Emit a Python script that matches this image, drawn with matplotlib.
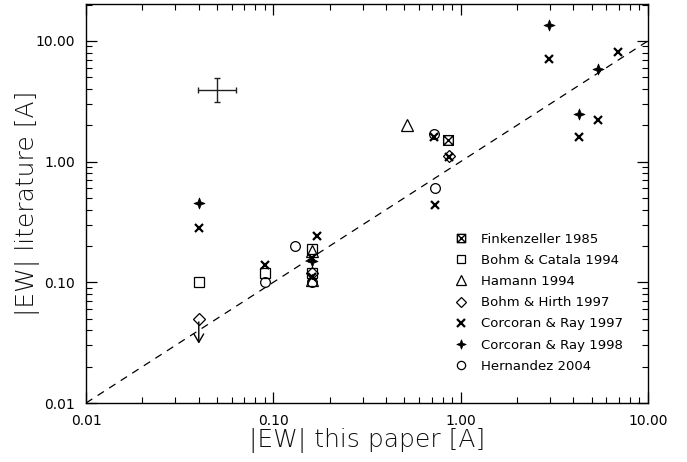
import matplotlib
matplotlib.use("Agg")
import matplotlib.pyplot as plt
import numpy as np
from matplotlib.path import Path
from matplotlib.ticker import LogLocator, FuncFormatter, NullFormatter

plt.rcParams['font.family'] = ['DejaVu Sans']

# Equivalent widths: this paper (x) vs. literature (y), per reference
fink_x = [0.86]
fink_y = [1.50]

bc_x = [0.04, 0.09, 0.16, 0.16]
bc_y = [0.10, 0.12, 0.19, 0.12]

ham_x = [0.52, 0.16, 0.16]
ham_y = [2.00, 0.18, 0.105]

bh_x = [0.04, 0.16, 0.87]
bh_y = [0.05, 0.12, 1.12]

cr97_x = [0.04, 0.09, 0.17, 0.16, 0.16, 0.72, 0.87, 0.73, 2.95, 4.3, 5.4, 6.9]
cr97_y = [0.28, 0.14, 0.24, 0.16, 0.11, 1.60, 1.10, 0.44, 7.1, 1.6, 2.2, 8.1]

cr98_x = [0.04, 0.16, 2.95, 4.3, 5.4]
cr98_y = [0.45, 0.15, 13.5, 2.5, 5.9]

her_x = [0.09, 0.13, 0.16, 0.72, 0.73]
her_y = [0.10, 0.20, 0.10, 1.70, 0.60]

# upper limit from Bohm & Hirth
ul_x = 0.04
ul_from, ul_to = 0.047, 0.031

# typical error (cross), +/- 0.1 dex
err_x, err_y = 0.05, 3.95
err_dex = 0.1

tick_vals = [0.01, 0.1, 1.0, 10.0]

# custom marker shapes
sqx = Path([(-1, -1), (1, -1), (1, 1), (-1, 1), (-1, -1),
            (-1, -1), (1, 1), (-1, 1), (1, -1)],
           [Path.MOVETO, Path.LINETO, Path.LINETO, Path.LINETO, Path.CLOSEPOLY,
            Path.MOVETO, Path.LINETO, Path.MOVETO, Path.LINETO])
a = 0.28
star4 = Path([(0, 1), (a, a), (1, 0), (a, -a), (0, -1), (-a, -a), (-1, 0), (-a, a), (0, 1)],
             [Path.MOVETO] + [Path.LINETO] * 7 + [Path.CLOSEPOLY])

fig = plt.figure(figsize=(6.87, 4.62), dpi=100)
ax = fig.add_axes([0.1252, 0.1277, 0.818, 0.8636])
ax.set_xscale('log')
ax.set_yscale('log')
ax.set_xlim(0.01, 10.0)
ax.set_ylim(0.01, 20.2)

# one-to-one line
lx = np.array([0.01, 10.0])
ax.plot(lx, lx, color='black', lw=0.9, ls=(0, (6, 5)), zorder=1)

kw = dict(ls='none', color='black', mec='black')
ax.plot(fink_x, fink_y, marker=sqx, ms=7, mfc='none', mew=1.0, label='Finkenzeller 1985', **kw)
ax.plot(bc_x, bc_y, marker='s', ms=7, mfc='none', mew=0.9, label='Bohm & Catala 1994', **kw)
ax.plot(ham_x, ham_y, marker='^', ms=9, mfc='none', mew=0.9, label='Hamann 1994', **kw)
ax.plot(bh_x, bh_y, marker='D', ms=6, mfc='none', mew=0.9, label='Bohm & Hirth 1997', **kw)
ax.plot(cr97_x, cr97_y, marker='x', ms=6, mew=1.6, label='Corcoran & Ray 1997', **kw)
ax.plot(cr98_x, cr98_y, marker=star4, ms=8, mfc='black', mew=0.5, label='Corcoran & Ray 1998', **kw)
ax.plot(her_x, her_y, marker='o', ms=7, mfc='none', mew=0.9, label='Hernandez 2004', **kw)

ax.annotate('', xy=(ul_x, ul_to), xytext=(ul_x, ul_from),
            arrowprops=dict(arrowstyle='->,head_length=0.6,head_width=0.35', color='black', lw=1.0,
                            shrinkA=0, shrinkB=0))

xerr = [[err_x - err_x * 10 ** -err_dex], [err_x * 10 ** err_dex - err_x]]
yerr = [[err_y - err_y * 10 ** -err_dex], [err_y * 10 ** err_dex - err_y]]
ax.errorbar([err_x], [err_y], xerr=xerr, yerr=yerr, fmt='none', ecolor='#222222',
            elinewidth=1.0, capsize=2.5, capthick=1.0)

# axes styling
for s in ax.spines.values():
    s.set_linewidth(1.0)
ax.tick_params(which='both', direction='in', top=True, right=True, colors='black')
ax.tick_params(which='major', length=8, width=0.9, labelsize=10, pad=8)
ax.tick_params(which='minor', length=4.5, width=0.8)
ax.xaxis.set_minor_locator(LogLocator(base=10, subs=np.arange(2, 10), numticks=20))
ax.yaxis.set_minor_locator(LogLocator(base=10, subs=np.arange(2, 10), numticks=20))
fmt = FuncFormatter(lambda v, p: f"{v:.2f}")
ax.set_xticks(tick_vals)
ax.set_yticks(tick_vals)
ax.xaxis.set_major_formatter(fmt)
ax.yaxis.set_major_formatter(fmt)
ax.xaxis.set_minor_formatter(NullFormatter())
ax.yaxis.set_minor_formatter(NullFormatter())

ax.set_xlabel('|EW| this paper [A]', fontsize=18, fontweight='light', color='#111111', labelpad=0)
ax.set_ylabel('|EW| literature [A]', fontsize=18, fontweight='light', color='#111111', labelpad=-3)

leg = ax.legend(loc='upper left', bbox_to_anchor=(0.646, 0.44), frameon=False,
                fontsize=9.5, handlelength=1.0, handletextpad=1.0, labelspacing=0.62,
                borderaxespad=0, markerscale=0.85)

fig.savefig('out.png', dpi=100)
